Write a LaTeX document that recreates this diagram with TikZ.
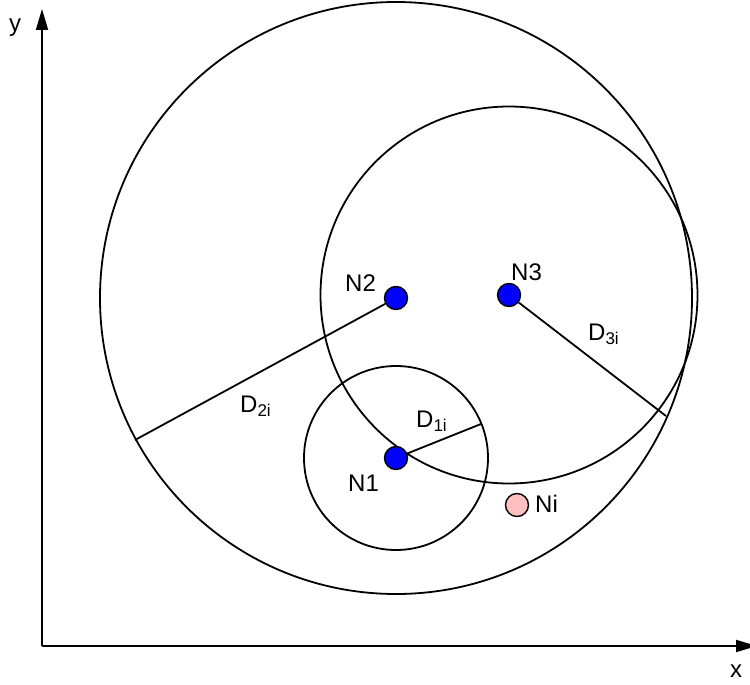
\documentclass[tikz,border=0pt]{standalone}
\usepackage{fontspec}
\setmainfont{Liberation Sans}
\usetikzlibrary{arrows.meta}
\newcommand{\mysub}[1]{\raisebox{-4.5pt}{\fontsize{17}{20}\selectfont #1}}
\begin{document}
\begin{tikzpicture}[x=1pt,y=-1pt,
  ln/.style={line width=1.8pt},
  axis/.style={line width=1.8pt,-{Triangle[length=21pt,width=12pt]}},
  dot/.style={circle,draw,line width=1.4pt,fill={rgb,255:red,0;green,0;blue,255},minimum size=23pt,inner sep=0pt},
  pinkdot/.style={circle,draw,line width=1.4pt,fill={rgb,255:red,255;green,192;blue,192},minimum size=23pt,inner sep=0pt},
  lbl/.style={anchor=base west,inner sep=0pt,font=\fontsize{24}{28}\selectfont}]
\useasboundingbox (0,0) rectangle (750,685);
% axes
\coordinate (O) at (42,646);
\coordinate (ytip) at (42,9);
\coordinate (xtip) at (757,646);
\draw[axis] (O) -- (ytip);
\draw[axis] (O) -- (xtip);
\node[lbl] (ylab) at (9,32) {y};
\node[lbl] (xlab) at (730,677) {x};
% centres
\coordinate (c1) at (396,458);
\coordinate (c2) at (396,298);
\coordinate (c3) at (509,295);
% circles
\draw[ln] (c2) circle (296pt);
\draw[ln] (c3) circle (188.5pt);
\draw[ln] (c1) circle (92pt);
% dots
\node[dot] (N1) at (c1) {};
\node[dot] (N2) at (c2) {};
\node[dot] (N3) at (c3) {};
\node[pinkdot] (Ni) at (517,505) {};
% radii
\coordinate (e1) at (481,424);
\coordinate (e2) at (135,440);
\coordinate (e3) at (666,416);
\draw[ln] (N1) -- (e1);
\draw[ln] (N2) -- (e2);
\draw[ln] (N3) -- (e3);
% labels
\node[lbl] (l1) at (348,491) {N1};
\node[lbl] (l2) at (345,291) {N2};
\node[lbl] (l3) at (511,280) {N3};
\node[lbl] (li) at (535,512) {Ni};
\node[lbl] (d1) at (416,427) {D\mysub{1i}};
\node[lbl] (d2) at (240,412) {D\mysub{2i}};
\node[lbl] (d3) at (588,340) {D\mysub{3i}};
\end{tikzpicture}
\end{document}
